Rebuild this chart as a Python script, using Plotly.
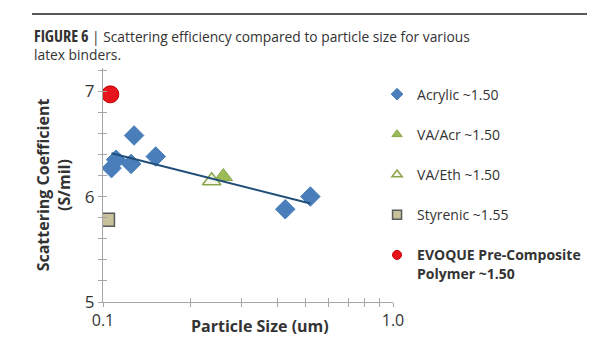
import numpy as np
import plotly.graph_objects as go

# ---- data ----
acrylic_x = [0.107, 0.111, 0.125, 0.128, 0.152, 0.425, 0.519]
acrylic_y = [6.27, 6.35, 6.31, 6.58, 6.38, 5.88, 6.00]
vaacr_x = [0.260]
vaacr_y = [6.19]
vaeth_x = [0.237]
vaeth_y = [6.15]
styrenic_x = [0.104]
styrenic_y = [5.78]
evoque_x = [0.106]
evoque_y = [6.97]

names = ["Acrylic ~1.50", "VA/Acr ~1.50", "VA/Eth ~1.50", "Styrenic ~1.55",
         "<b>EVOQUE Pre-Composite<br>Polymer ~1.50</b>"]
x_tickvals = [0.1, 1.0]
x_ticktext = ["0.1", "1.0"]
x_minor = [0.2, 0.3, 0.4, 0.5, 0.6, 0.7, 0.8, 0.9]
y_tickvals = [5, 6, 7]

# logarithmic trendline for acrylic
lx = np.log10(acrylic_x)
slope, intercept = np.polyfit(lx, acrylic_y, 1)
trend_x = [min(acrylic_x), max(acrylic_x)]
trend_y = [intercept + slope * np.log10(v) for v in trend_x]

FONT = "Open Sans, Noto Sans, sans-serif"
TXT = "#333333"
AX = "#A6A6A6"

styles = [
    dict(symbol="diamond", color="#4A7EBB", line=dict(color="#4A7EBB", width=1)),
    dict(symbol="triangle-up", color="#9BBB59", line=dict(color="#8AA64A", width=1)),
    dict(symbol="triangle-up", color="#F4F7EA", line=dict(color="#8AA64A", width=1.5)),
    dict(symbol="square", color="#C9C19C", line=dict(color="#5A5A5A", width=1.5)),
    dict(symbol="circle", color="#E8141B", line=dict(color="#C00000", width=1)),
]
sizes = [15, 16, 16, 13, 17]
datasets = [(acrylic_x, acrylic_y), (vaacr_x, vaacr_y), (vaeth_x, vaeth_y),
            (styrenic_x, styrenic_y), (evoque_x, evoque_y)]

fig = go.Figure()
for (xs, ys), st, sz in zip(datasets, styles, sizes):
    fig.add_trace(go.Scatter(x=xs, y=ys, mode="markers", showlegend=False,
                             marker=dict(size=sz, **st)))
# trendline drawn on overlay axes (above markers, also gives crossing ticks)
fig.add_trace(go.Scatter(x=trend_x, y=trend_y, mode="lines", xaxis="x2", yaxis="y2",
                         line=dict(color="#1F4E79", width=2), showlegend=False,
                         hoverinfo="skip"))
# legend-only entries with small markers
for nm, st in zip(names, styles):
    fig.add_trace(go.Scatter(x=[None], y=[None], mode="markers", name=nm,
                             legendgroup=nm, marker=dict(size=9, **st)))

common_x = dict(type="log", range=[-1, 0.0], showgrid=False, zeroline=False,
                automargin=False)
common_y = dict(range=[5, 7.22], showgrid=False, zeroline=False, automargin=False)

fig.update_layout(
    width=615, height=350,
    margin=dict(l=103, r=222, t=68, b=48),
    paper_bgcolor="white", plot_bgcolor="white",
    font=dict(family=FONT, color=TXT, size=14),
    showlegend=True,
    legend=dict(x=0.945, xanchor="left", y=0.955, yanchor="top",
                font=dict(size=14, color=TXT), tracegroupgap=19,
                valign="top", bgcolor="rgba(0,0,0,0)"),
    xaxis=dict(**common_x, tickvals=x_tickvals, ticktext=x_ticktext,
               ticks="outside", ticklen=4, tickcolor=AX,
               showline=True, linecolor=AX, linewidth=1,
               tickfont=dict(size=16, color=TXT),
               minor=dict(tickvals=x_minor, ticks="outside", ticklen=4,
                          tickcolor=AX, showgrid=False)),
    yaxis=dict(**common_y, tickvals=y_tickvals,
               ticks="outside", ticklen=4, tickcolor=AX,
               showline=True, linecolor=AX, linewidth=1,
               tickfont=dict(size=17, color=TXT),
               minor=dict(dtick=0.2, ticks="outside", ticklen=4,
                          tickcolor=AX, showgrid=False),
               title=dict(text="<b>Scattering Coefficient<br>(S/mil)</b>",
                          font=dict(size=16, color=TXT), standoff=10)),
    xaxis2=dict(**common_x, overlaying="x", anchor="y", tickvals=x_tickvals,
                ticks="inside", ticklen=4, tickcolor=AX, showticklabels=False,
                showline=False,
                minor=dict(tickvals=x_minor, ticks="inside", ticklen=4,
                           tickcolor=AX, showgrid=False)),
    yaxis2=dict(**common_y, overlaying="y", anchor="x", tickvals=y_tickvals,
                ticks="inside", ticklen=4, tickcolor=AX, showticklabels=False,
                showline=False,
                minor=dict(dtick=0.2, ticks="inside", ticklen=4,
                           tickcolor=AX, showgrid=False)),
)

# x-axis title (placed slightly right of centre, as in the original)
fig.add_annotation(xref="paper", yref="paper", x=(260 - 103) / 290, y=(302 - 326) / 234,
                   xanchor="center", yanchor="middle", showarrow=False,
                   text="<b>Particle Size (um)</b>", font=dict(size=16, color=TXT))

fig.add_shape(type="line", xref="paper", yref="paper",
              x0=(32 - 103) / 290, x1=(587 - 103) / 290,
              y0=(302 - 14) / 234, y1=(302 - 14) / 234,
              line=dict(color="#222222", width=1.5))

fig.add_annotation(
    xref="paper", yref="paper", x=(32 - 103) / 290, y=(302 - 23) / 234,
    xanchor="left", yanchor="top", align="left", showarrow=False,
    text=("<span style=\"font-stretch:condensed;font-size:16px\"><b>FIGURE 6</b></span>"
          " | Scattering efficiency compared to particle size for various"
          "<br>latex binders."),
    font=dict(family=FONT, size=13.8, color=TXT),
)

fig.write_html("out.html")
